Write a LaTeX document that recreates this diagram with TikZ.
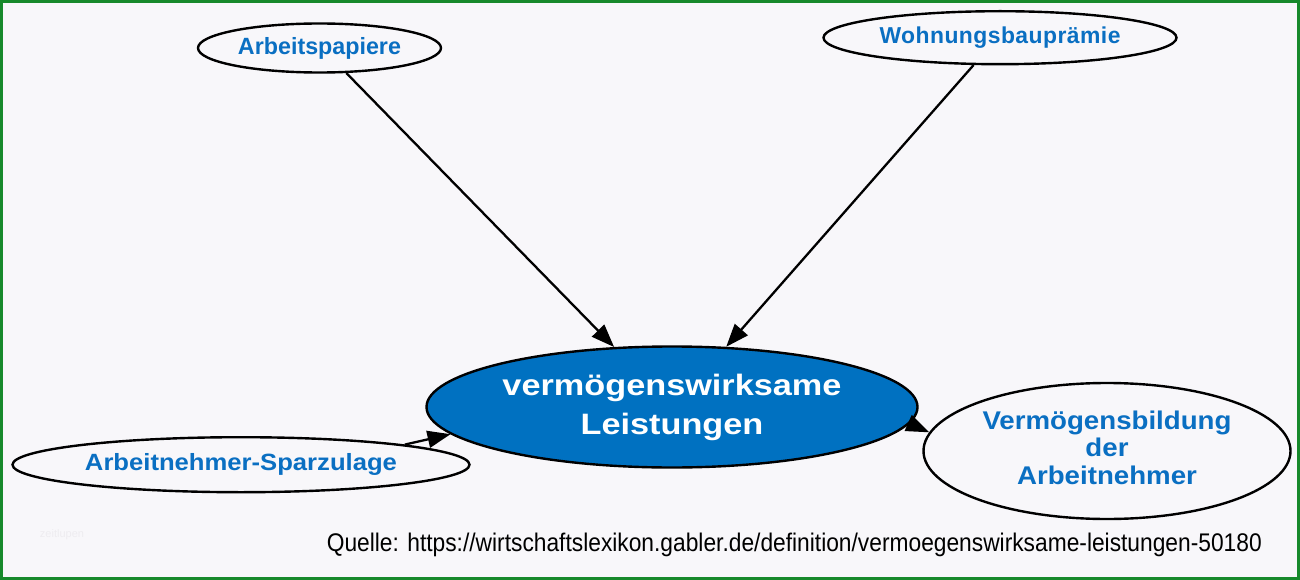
\documentclass[tikz,border=0pt]{standalone}
\usepackage{fontspec}
\setmainfont{Liberation Sans}
\usetikzlibrary{shapes.geometric,arrows.meta}
\definecolor{bgc}{HTML}{F8F7FA}
\definecolor{frame}{HTML}{17892B}
\definecolor{nodeblue}{HTML}{0A6FC2}
\definecolor{mainfill}{HTML}{0071C1}
\definecolor{wmark}{HTML}{EEECF0}
\newcommand{\fitw}[2]{\resizebox{#1}{\height}{#2}}
\tikzset{
  topic/.style={ellipse, draw=black, line width=2.4pt, fill=bgc, inner sep=0pt,
    text=nodeblue, align=center},
  mainnode/.style={ellipse, draw=black, line width=2.4pt, fill=mainfill, inner sep=0pt,
    text=white, align=center},
  edge/.style={draw=black, line width=2.3pt, -{Triangle[length=23pt,width=17pt]}},
}
\begin{document}
\begin{tikzpicture}[x=1pt,y=-1pt]
\useasboundingbox (0,0) rectangle (1300,580);
\fill[bgc] (0,0) rectangle (1300,580);
\draw[frame, line width=3pt] (1.5,1.5) rectangle (1298.5,578.5);

\node[topic, minimum width=243pt, minimum height=49pt,
  font=\fontsize{23.5}{27}\selectfont\bfseries] (ap) at (319.5,48) {\fitw{163pt}{Arbeitspapiere}};
\node[topic, minimum width=353pt, minimum height=53pt,
  font=\fontsize{23}{27}\selectfont\bfseries\addfontfeature{LetterSpace=2}] (wb) at (1000,37.7) {\fitw{241pt}{Wohnungsbauprämie}};
\node[topic, minimum width=457pt, minimum height=55pt,
  font=\fontsize{23.5}{27}\selectfont\bfseries] (sz) at (241,464.7) {\fitw{312pt}{Arbeitnehmer-Sparzulage}};
\node[mainnode, minimum width=491pt, minimum height=121pt,
  font=\fontsize{29.5}{39}\selectfont\bfseries] (c) at (672,407)
  {\fitw{339pt}{\begin{tabular}{@{}c@{}}vermögenswirksame\\Leistungen\end{tabular}}};
\node[topic, minimum width=367pt, minimum height=136pt,
  font=\fontsize{25.6}{27.5}\selectfont\bfseries] (vb) at (1107,451)
  {\fitw{249pt}{\begin{tabular}{@{}c@{}}Vermögensbildung\\der\\Arbeitnehmer\end{tabular}}};

\draw[edge] (ap.-43) -- (c.134);
\draw[edge] (wb.-134) -- (c.48);
\draw[edge] (sz.7.5) -- (c.187.7);
\draw[edge] (c.-4.6) -- (vb.174.2);

\node[anchor=base east, inner sep=0pt, font=\fontsize{25.5}{28}\selectfont] (src) at (1262,551)
  {\fitw{935pt}{Quelle: https://wirtschaftslexikon.gabler.de/definition/vermoegenswirksame-leistungen-50180}};
\node[anchor=base, inner sep=0pt, text=wmark, font=\fontsize{11}{12}\selectfont] (wm) at (62,537) {zeitlupen};
\end{tikzpicture}
\end{document}
